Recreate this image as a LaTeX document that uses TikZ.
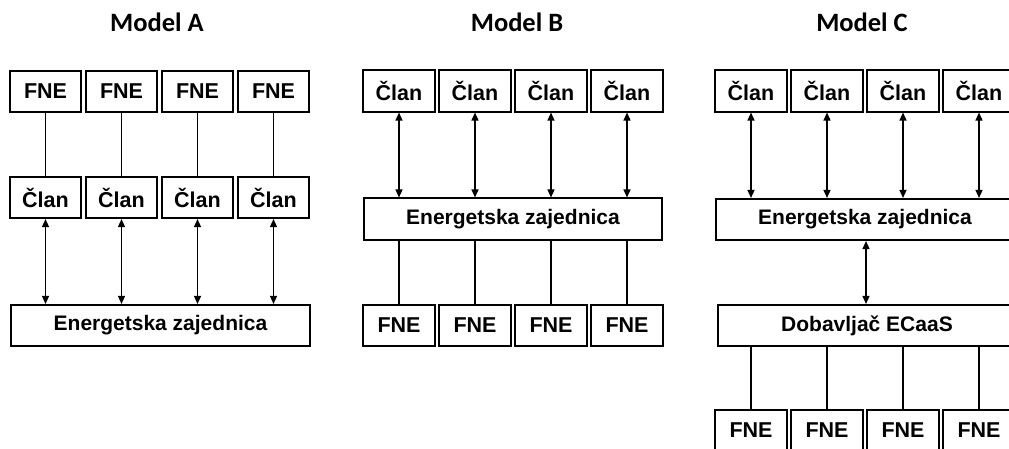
\documentclass[tikz,border=0pt]{standalone}
\usepackage{fontspec}
\setmainfont{Liberation Sans}
\newfontfamily\titlefont{Carlito}
\usetikzlibrary{arrows.meta}

\begin{document}
\begin{tikzpicture}[
      x=1pt, y=-1pt,
      box/.style={rectangle, draw=black, line width=1.6pt, minimum width=71.5pt, minimum height=41.5pt,
          inner sep=0pt, font=\fontsize{21.5}{24}\selectfont\bfseries},
      wide/.style={box, minimum width=298.5pt, font=\fontsize{21}{24}\selectfont\bfseries},
      title/.style={font=\titlefont\fontsize{26.5}{30}\selectfont\bfseries},
      link/.style={line width=1.4pt},
      arr/.style={link, {Triangle[length=8pt,width=7pt]}-{Triangle[length=8pt,width=7pt]}}
    ]
    \clip (0,0) rectangle (1009,448);

    % Model A
    \node[title] (ta) at (157,22) {Model A};
    \foreach \i/\x in {1/45.5, 2/121.5, 3/197.5, 4/273.5} {
        \node[box] (fa\i) at (\x,91.5) {FNE};
        \node[box] (ca\i) at (\x,197.5) {Član};
      }
    \node[wide] (eza) at (160.5,325.5) {Energetska zajednica};
    \foreach \i in {1,...,4} {
        \draw[link] (fa\i) -- (ca\i);
        \draw[arr] (ca\i) -- (ca\i |- eza.north);
      }

    % Model B
    \node[title] (tb) at (517,22) {Model B};
    \foreach \i/\x in {1/399, 2/475, 3/551, 4/627} {
        \node[box] (cb\i) at (\x,91) {Član};
        \node[box] (fb\i) at (\x,325.5) {FNE};
      }
    \node[wide] (ezb) at (513,219) {Energetska zajednica};
    \foreach \i in {1,...,4} {
        \draw[arr] (cb\i) -- (cb\i |- ezb.north);
        \draw[link] (ezb.south -| fb\i) -- (fb\i);
      }

    % Model C
    \node[title] (tc) at (862,22) {Model C};
    \foreach \i/\x in {1/751, 2/827, 3/903, 4/979} {
        \node[box] (cc\i) at (\x,91) {Član};
        \node[box] (fc\i) at (\x,430.5) {FNE};
      }
    \node[wide] (ezc) at (865,219.5) {Energetska zajednica};
    \node[wide] (dob) at (867,325.5) {Dobavljač ECaaS};
    \foreach \i in {1,...,4} {
        \draw[arr] (cc\i) -- (cc\i |- ezc.north);
        \draw[link] (dob.south -| fc\i) -- (fc\i);
      }
    \draw[arr] (ezc.south -| 866,0) -- (dob.north -| 866,0);
  \end{tikzpicture}
\end{document}
